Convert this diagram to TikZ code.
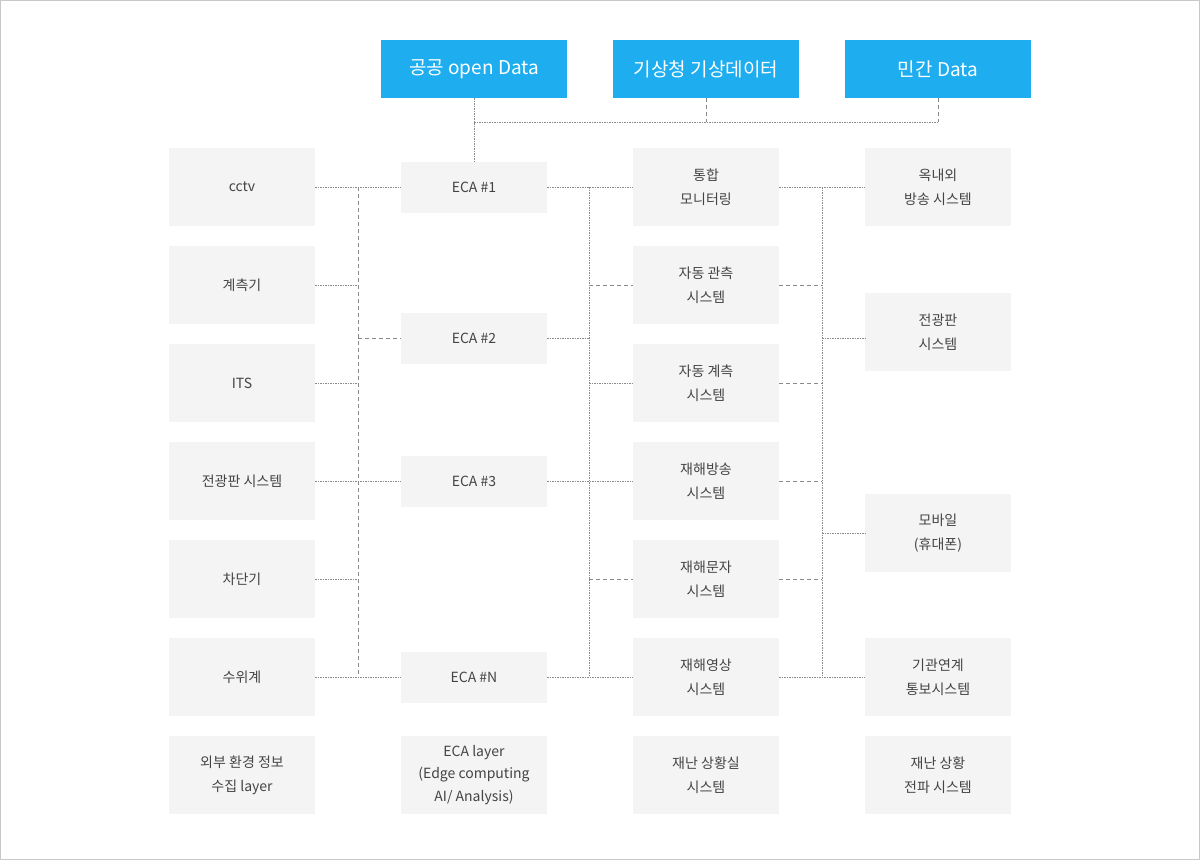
\documentclass[tikz,border=0pt]{standalone}
\usepackage{fontspec}
\setmainfont{Noto Sans CJK KR}
\definecolor{boxgray}{HTML}{F4F4F4}
\definecolor{txtgray}{HTML}{444444}
\definecolor{skyblue}{HTML}{1EAEF0}
\definecolor{linegray}{HTML}{8A8A8A}
\definecolor{framegray}{HTML}{C8C8C8}
\begin{document}
\begin{tikzpicture}[x=1pt,y=-1pt,
  gbox/.style={fill=boxgray,draw=none,minimum width=146pt,minimum height=78pt,inner sep=0pt,
    text=txtgray,font=\fontsize{14}{24}\selectfont,align=center},
  ebox/.style={gbox,minimum height=51pt},
  bbox/.style={fill=skyblue,draw=none,minimum width=186pt,minimum height=58pt,inner sep=0pt,
    text=white,font=\fontsize{19}{22}\selectfont},
  dotl/.style={draw=linegray,line width=0.8pt,dash pattern=on 1.5pt off 1pt},
  dashl/.style={draw=linegray,line width=0.8pt,dash pattern=on 4pt off 3pt}]
\useasboundingbox (0,0) rectangle (1200,860);
\draw[framegray,line width=1pt] (0.5,0.5) rectangle (1199.5,859.5);
% top data sources
\node[bbox] (t1) at (474,69) {공공 open Data};
\node[bbox] (t2) at (706,69) {기상청 기상데이터};
\node[bbox] (t3) at (938,69) {민간 Data};
% left column
\node[gbox] (l1) at (242,187) {cctv};
\node[gbox] (l2) at (242,285) {계측기};
\node[gbox] (l3) at (242,383) {ITS};
\node[gbox] (l4) at (242,481) {전광판 시스템};
\node[gbox] (l5) at (242,579) {차단기};
\node[gbox] (l6) at (242,677) {수위계};
\node[gbox] (l7) at (242,775) {외부 환경 정보\\수집 layer};
% ECA column
\node[ebox] (e1) at (474,187) {ECA \#1};
\node[ebox] (e2) at (474,338) {ECA \#2};
\node[ebox] (e3) at (474,481) {ECA \#3};
\node[ebox] (e4) at (474,677) {ECA \#N};
\node[gbox,font=\fontsize{14}{22.5}\selectfont] (e5) at (474,775) {ECA layer\\(Edge computing\\AI/ Analysis)};
% third column
\node[gbox] (m1) at (706,187) {통합\\모니터링};
\node[gbox] (m2) at (706,285) {자동 관측\\시스템};
\node[gbox] (m3) at (706,383) {자동 계측\\시스템};
\node[gbox] (m4) at (706,481) {재해방송\\시스템};
\node[gbox] (m5) at (706,579) {재해문자\\시스템};
\node[gbox] (m6) at (706,677) {재해영상\\시스템};
\node[gbox] (m7) at (706,775) {재난 상황실\\시스템};
% fourth column
\node[gbox] (r1) at (938,187) {옥내외\\방송 시스템};
\node[gbox] (r2) at (938,332) {전광판\\시스템};
\node[gbox] (r3) at (938,533) {모바일\\(휴대폰)};
\node[gbox] (r4) at (938,677) {기관연계\\통보시스템};
\node[gbox] (r5) at (938,775) {재난 상황\\전파 시스템};
% bus coordinates
\coordinate (topbus) at (0,122);
\coordinate (busL) at (358,0);
\coordinate (busM) at (589,0);
\coordinate (busR) at (822,0);
% top connectors
\draw[dotl] (t1.south) -- (e1.north);
\draw[dotl] (t1.south |- topbus) -- (t3.south |- topbus);
\draw[dashl] (t2.south) -- (t2.south |- topbus);
\draw[dashl] (t3.south) -- (t3.south |- topbus);
% left bus
\draw[dashl] (busL |- l1.east) -- (busL |- l6.east);
\draw[dotl] (l1.east) -- (e1.west);
\draw[dotl] (l2.east) -- (l2.east -| busL);
\draw[dotl] (l3.east) -- (l3.east -| busL);
\draw[dotl] (l4.east) -- (e3.west);
\draw[dotl] (l5.east) -- (l5.east -| busL);
\draw[dotl] (l6.east) -- (e4.west);
\draw[dashl] (e2.west -| busL) -- (e2.west);
% middle bus
\draw[dotl] (busM |- m1.west) -- (busM |- m6.west);
\draw[dotl] (e1.east) -- (m1.west);
\draw[dotl] (e2.east) -- (e2.east -| busM);
\draw[dotl] (e3.east) -- (m4.west);
\draw[dotl] (e4.east) -- (m6.west);
\draw[dashl] (m2.west -| busM) -- (m2.west);
\draw[dotl] (m3.west -| busM) -- (m3.west);
\draw[dashl] (m5.west -| busM) -- (m5.west);
% right bus
\draw[dotl] (busR |- m1.east) -- (busR |- m6.east);
\draw[dotl] (m1.east) -- (r1.west);
\draw[dashl] (m2.east) -- (m2.east -| busR);
\draw[dashl] (m3.east) -- (m3.east -| busR);
\draw[dashl] (m4.east) -- (m4.east -| busR);
\draw[dashl] (m5.east) -- (m5.east -| busR);
\draw[dotl] (m6.east) -- (r4.west);
\draw[dotl] (busR |- e2.east) -- (r2.west |- e2.east);
\draw[dotl] (r3.west -| busR) -- (r3.west);
\end{tikzpicture}
\end{document}
